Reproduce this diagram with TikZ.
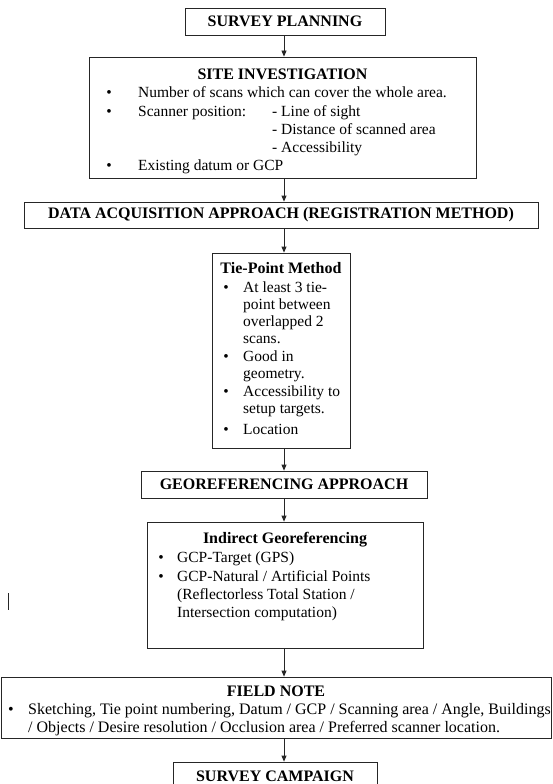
\documentclass[tikz,border=0pt]{standalone}
\usepackage{fontspec}
\setmainfont{Liberation Serif}
\usetikzlibrary{arrows.meta}
\begin{document}
\begin{tikzpicture}[x=1pt,y=-1pt,
  box/.style={draw=black!85, line width=0.8pt, inner sep=0pt},
  ttl/.style={font=\fontsize{16}{19}\selectfont\bfseries},
  ttlt/.style={font=\fontsize{16}{19}\selectfont\bfseries, inner sep=0pt, anchor=base},
  txt/.style={font=\fontsize{15.5}{18}\selectfont, inner sep=0pt, anchor=base west},
  bul/.style={font=\fontsize{15.5}{18}\selectfont, inner sep=0pt, anchor=base},
  arr/.style={draw=black!85, line width=0.8pt, -{Triangle[length=6pt,width=5pt]}}]
\useasboundingbox (0,0) rectangle (552,784);
\clip (0,0) rectangle (552,784);
\coordinate (ax) at (284,0);

% boxes
\node[box,ttl,minimum width=200,minimum height=27] (sp) at (285,21.5) {SURVEY PLANNING};
\node[box,minimum width=387,minimum height=121] (site) at (282.5,117.5) {};
\node[box,ttl,minimum width=514,minimum height=26] (data) at (281,215) {DATA ACQUISITION APPROACH (REGISTRATION METHOD)};
\node[box,minimum width=138,minimum height=195] (tie) at (281,350.5) {};
\node[box,ttl,minimum width=286,minimum height=27] (geo) at (284,484.5) {GEOREFERENCING APPROACH};
\node[box,minimum width=276,minimum height=126] (ind) at (285,585) {};
\node[box,minimum width=550,minimum height=61] (field) at (276,707.5) {};
\node[box,ttl,minimum width=204,minimum height=28] (camp) at (275,776) {SURVEY CAMPAIGN};

% site investigation content
\node[ttlt] (sitet) at (282.5,79) {SITE INVESTIGATION};
\node[bul] (sb1) at (109,97) {\textbullet};
\node[txt] (s1) at (138,97) {Number of scans which can cover the whole area.};
\node[bul] (sb2) at (109,116) {\textbullet};
\node[txt] (s2) at (138,116) {Scanner position:};
\node[txt] (s2a) at (272,116) {- Line of sight};
\node[txt] (s2b) at (272,134) {- Distance of scanned area};
\node[txt] (s2c) at (272,152) {- Accessibility};
\node[bul] (sb3) at (109,170) {\textbullet};
\node[txt] (s3) at (138,170) {Existing datum or GCP};

% tie-point content
\node[ttlt] (tiet) at (281,273) {Tie-Point Method};
\node[bul] (tb1) at (226,292) {\textbullet};
\node[txt] (t1) at (243,292) {At least 3 tie-};
\node[txt] (t2) at (243,309) {point between};
\node[txt] (t3) at (243,326) {overlapped 2};
\node[txt] (t4) at (243,343) {scans.};
\node[bul] (tb2) at (226,361) {\textbullet};
\node[txt] (t5) at (243,361) {Good in};
\node[txt] (t6) at (243,378) {geometry.};
\node[bul] (tb3) at (226,396) {\textbullet};
\node[txt] (t7) at (243,396) {Accessibility to};
\node[txt] (t8) at (243,413) {setup targets.};
\node[bul] (tb4) at (226,434) {\textbullet};
\node[txt] (t9) at (243,434) {Location};

% indirect georeferencing content
\node[ttlt] (indt) at (285,543) {Indirect Georeferencing};
\node[bul] (ib1) at (161,562) {\textbullet};
\node[txt] (i1) at (177,562) {GCP-Target (GPS)};
\node[bul] (ib2) at (161,581) {\textbullet};
\node[txt] (i2) at (177,581) {GCP-Natural / Artificial Points};
\node[txt] (i3) at (177,599) {(Reflectorless Total Station /};
\node[txt] (i4) at (177,617) {Intersection computation)};

% field note content
\node[ttlt] (fieldt) at (276,696) {FIELD NOTE};
\node[bul,font=\fontsize{16}{18}\selectfont] (fb1) at (11,714) {\textbullet};
\node[txt,font=\fontsize{16}{18}\selectfont] (f1) at (28,714) {Sketching, Tie point numbering, Datum / GCP / Scanning area / Angle, Buildings};
\node[txt,font=\fontsize{16}{18}\selectfont] (f2) at (28,732) {/ Objects / Desire resolution / Occlusion area / Preferred scanner location.};

% stray mark
\draw[black!85, line width=0.8pt] (8,593) -- (8,610);

% connectors
\draw[arr] (sp.south -| ax) -- (site.north -| ax);
\draw[arr] (site.south -| ax) -- (data.north -| ax);
\draw[arr] (data.south -| ax) -- (tie.north -| ax);
\draw[arr] (tie.south -| ax) -- (geo.north -| ax);
\draw[arr] (geo.south -| ax) -- (ind.north -| ax);
\draw[arr] (ind.south -| ax) -- (field.north -| ax);
\draw[arr] (field.south -| ax) -- (camp.north -| ax);
\end{tikzpicture}
\end{document}
